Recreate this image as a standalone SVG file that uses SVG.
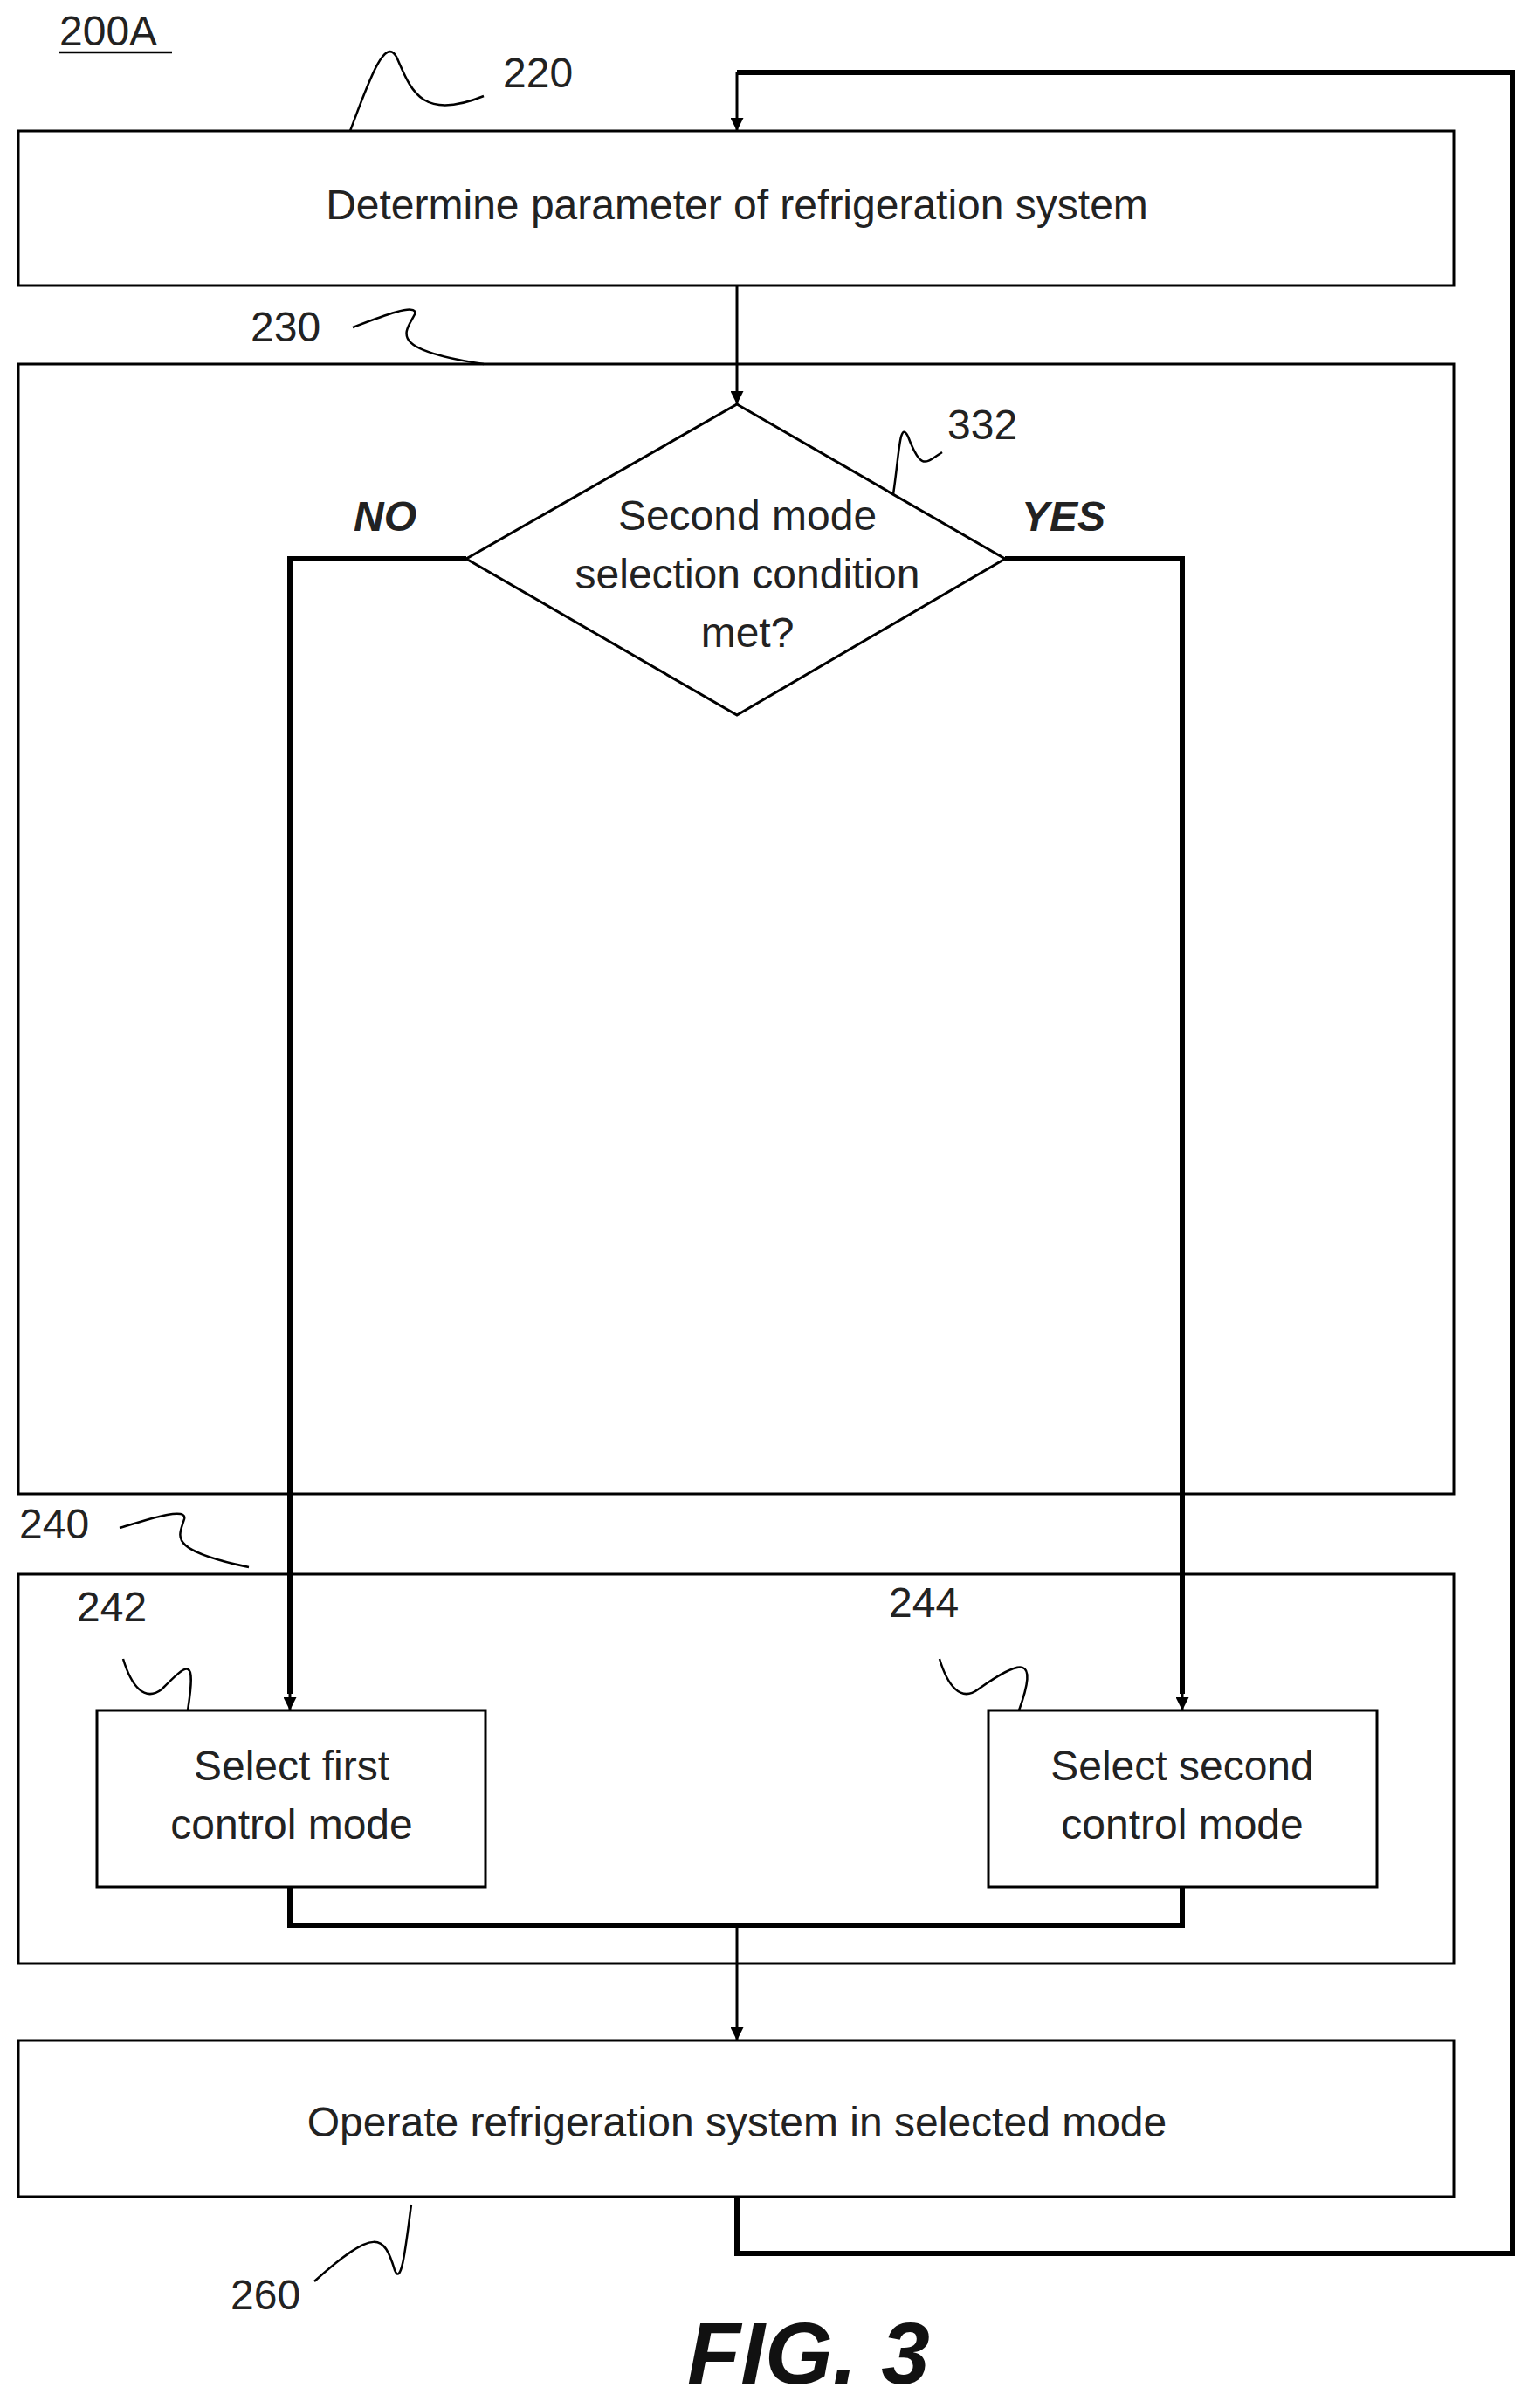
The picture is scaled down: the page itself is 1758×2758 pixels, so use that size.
<svg xmlns="http://www.w3.org/2000/svg" width="1758" height="2758" viewBox="0 0 1758 2758">
<style>
.box{fill:#fff;stroke:#000;stroke-width:3}
.t{font-family:"Liberation Sans",Arial,sans-serif;font-size:48px;fill:#222;text-anchor:middle}
.lb{font-family:"Liberation Sans",Arial,sans-serif;font-size:48px;fill:#222}
.sq{fill:none;stroke:#000;stroke-width:2.5}
.c{fill:none;stroke:#000;stroke-width:6}
.a{fill:none;stroke:#000;stroke-width:3;marker-end:url(#ah)}
</style>
<defs><marker id="ah" viewBox="0 0 10 10" refX="10" refY="5" markerWidth="5" markerHeight="5" markerUnits="strokeWidth" orient="auto"><path d="M0,0 L10,5 L0,10 z" fill="#000"/></marker></defs>
<rect width="1758" height="2758" fill="#fff"/>
<text class="lb" x="68" y="52">200A</text>
<line x1="68" y1="60" x2="197" y2="60" stroke="#000" stroke-width="2.5"/>
<g id="n220"><rect class="box" x="21" y="150" width="1644" height="177"/><text class="t" x="844" y="251">Determine parameter of refrigeration system</text></g>
<g id="n230"><rect class="box" x="21" y="417" width="1644" height="1294"/></g>
<g id="n332"><polygon class="box" points="844,463 1151,640 844,819 534,640"/><text class="t" x="856" y="607">Second mode</text><text class="t" x="856" y="674">selection condition</text><text class="t" x="856" y="741">met?</text></g>
<g id="n240"><rect class="box" x="21" y="1803" width="1644" height="446"/></g>
<g id="n242"><rect class="box" x="111" y="1959" width="445" height="202"/><text class="t" x="334" y="2039">Select first</text><text class="t" x="334" y="2106">control mode</text></g>
<g id="n244"><rect class="box" x="1132" y="1959" width="445" height="202"/><text class="t" x="1354" y="2039">Select second</text><text class="t" x="1354" y="2106">control mode</text></g>
<g id="n260"><rect class="box" x="21" y="2337" width="1644" height="179"/><text class="t" x="844" y="2447">Operate refrigeration system in selected mode</text></g>
<g id="connectors">
<path class="c" d="M844,2516 V2581 H1732 V83 H844"/>
<line class="a" x1="844" y1="83" x2="844" y2="150"/>
<line class="a" x1="844" y1="327" x2="844" y2="463"/>
<path class="c" d="M534,640 H332 V1940"/><line class="a" x1="332" y1="1900" x2="332" y2="1959"/>
<path class="c" d="M1151,640 H1354 V1940"/><line class="a" x1="1354" y1="1900" x2="1354" y2="1959"/>
<path class="c" d="M332,2161 V2205 H1354 V2161"/>
<line class="a" x1="844" y1="2205" x2="844" y2="2337"/>
</g>
<text class="lb" style="font-weight:bold;font-style:italic" x="405" y="608">NO</text>
<text class="lb" style="font-weight:bold;font-style:italic" x="1170" y="608">YES</text>
<text class="lb" x="576" y="100">220</text>
<path class="sq" d="M401,150 C420,100 440,40 454,65 C470,100 480,140 554,110"/>
<text class="lb" x="287" y="391">230</text>
<path class="sq" d="M404,375 C430,365 480,345 475,360 C465,380 440,400 554,417"/>
<text class="lb" x="1085" y="503">332</text>
<path class="sq" d="M1023,566 C1030,520 1030,480 1040,500 C1055,540 1060,530 1079,518"/>
<text class="lb" x="22" y="1762">240</text>
<path class="sq" d="M137,1750 C170,1740 215,1725 211,1740 C205,1760 190,1775 285,1795"/>
<text class="lb" x="88" y="1857">242</text>
<path class="sq" d="M141,1900 C150,1930 165,1950 185,1935 C215,1905 225,1895 215,1959"/>
<text class="lb" x="1018" y="1852">244</text>
<path class="sq" d="M1076,1900 C1085,1930 1100,1950 1120,1935 C1170,1900 1190,1895 1167,1959"/>
<text class="lb" x="264" y="2645">260</text>
<path class="sq" d="M471,2525 C465,2570 460,2620 452,2600 C440,2560 430,2550 360,2613"/>
<text x="926" y="2730" style="font-family:'Liberation Sans',Arial,sans-serif;font-size:100px;font-weight:bold;font-style:italic;text-anchor:middle" fill="#111">FIG. 3</text>
</svg>
